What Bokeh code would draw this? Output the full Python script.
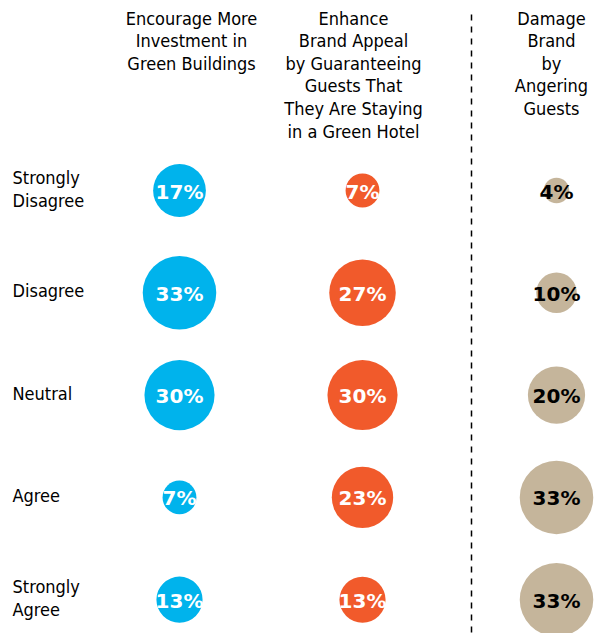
import math
from bokeh.plotting import figure
from bokeh.models import Range1d, ColumnDataSource
from bokeh.core.properties import value
from bokeh.embed import file_html
from bokeh.resources import INLINE

# ---- data ----
rows = ["Strongly\nDisagree", "Disagree", "Neutral", "Agree", "Strongly\nAgree"]
headers = [
    "Encourage More\nInvestment in\nGreen Buildings",
    "Enhance\nBrand Appeal\nby Guaranteeing\nGuests That\nThey Are Staying\nin a Green Hotel",
    "Damage\nBrand\nby\nAngering\nGuests",
]
encourage = [17, 33, 30, 7, 13]
enhance = [7, 27, 30, 23, 13]
damage = [4, 10, 20, 33, 33]
series = [encourage, enhance, damage]

# ---- styles / layout ----
colors = ["#00B3EC", "#F15A2B", "#C5B59B"]
text_colors = ["white", "white", "black"]
col_x = [179, 362, 556]
head_x = [191, 353, 551]
row0, row_step = 190, 102.3
K = 6.4
HEAD_FONT = "DejaVu Sans Condensed"
NUM_FONT = "DejaVu Sans"

W, H = 596, 633
p = figure(width=W, height=H, output_backend="svg", toolbar_location=None,
           x_range=Range1d(0, W), y_range=Range1d(H, 0),
           min_border=0, tools="")
p.axis.visible = False
p.xgrid.visible = False
p.ygrid.visible = False
p.outline_line_color = None
p.background_fill_color = "white"

# dashed divider
p.segment(x0=[471], y0=[14], x1=[471], y1=[H], line_color="black",
          line_width=1.5, line_dash="6 6")

# circles & labels
for ci, vals in enumerate(series):
    ys = [row0 + i * row_step for i in range(len(vals))]
    xs = [col_x[ci]] * len(vals)
    src = ColumnDataSource(dict(
        x=xs, y=ys,
        size=[2 * K * math.sqrt(v) for v in vals],
        label=[f"{v}%" for v in vals],
    ))
    p.scatter(x="x", y="y", size="size", source=src, fill_color=colors[ci],
              line_color=None)
    p.text(x="x", y="y", text="label", source=src, text_align="center",
           text_baseline="middle", text_color=text_colors[ci],
           text_font=value(NUM_FONT), text_font_style="bold",
           text_font_size="20px", y_offset=1)

# headers
line_h = 22.6
for ci, h in enumerate(headers):
    lines = h.split("\n")
    p.text(x=[head_x[ci]] * len(lines),
           y=[17.5 + i * line_h for i in range(len(lines))],
           text=lines, text_align="center", text_baseline="middle",
           text_color="black", text_font=value(HEAD_FONT),
           text_font_size="18px")

# row labels
for ri, r in enumerate(rows):
    lines = r.split("\n")
    cy = row0 + ri * row_step
    n = len(lines)
    p.text(x=[12] * n,
           y=[cy - 2 + (i - (n - 1) / 2) * 23 for i in range(n)],
           text=lines, text_align="left", text_baseline="middle",
           text_color="black", text_font=value(HEAD_FONT),
           text_font_size="18px")

open("out.html", "w").write(file_html(p, INLINE))
